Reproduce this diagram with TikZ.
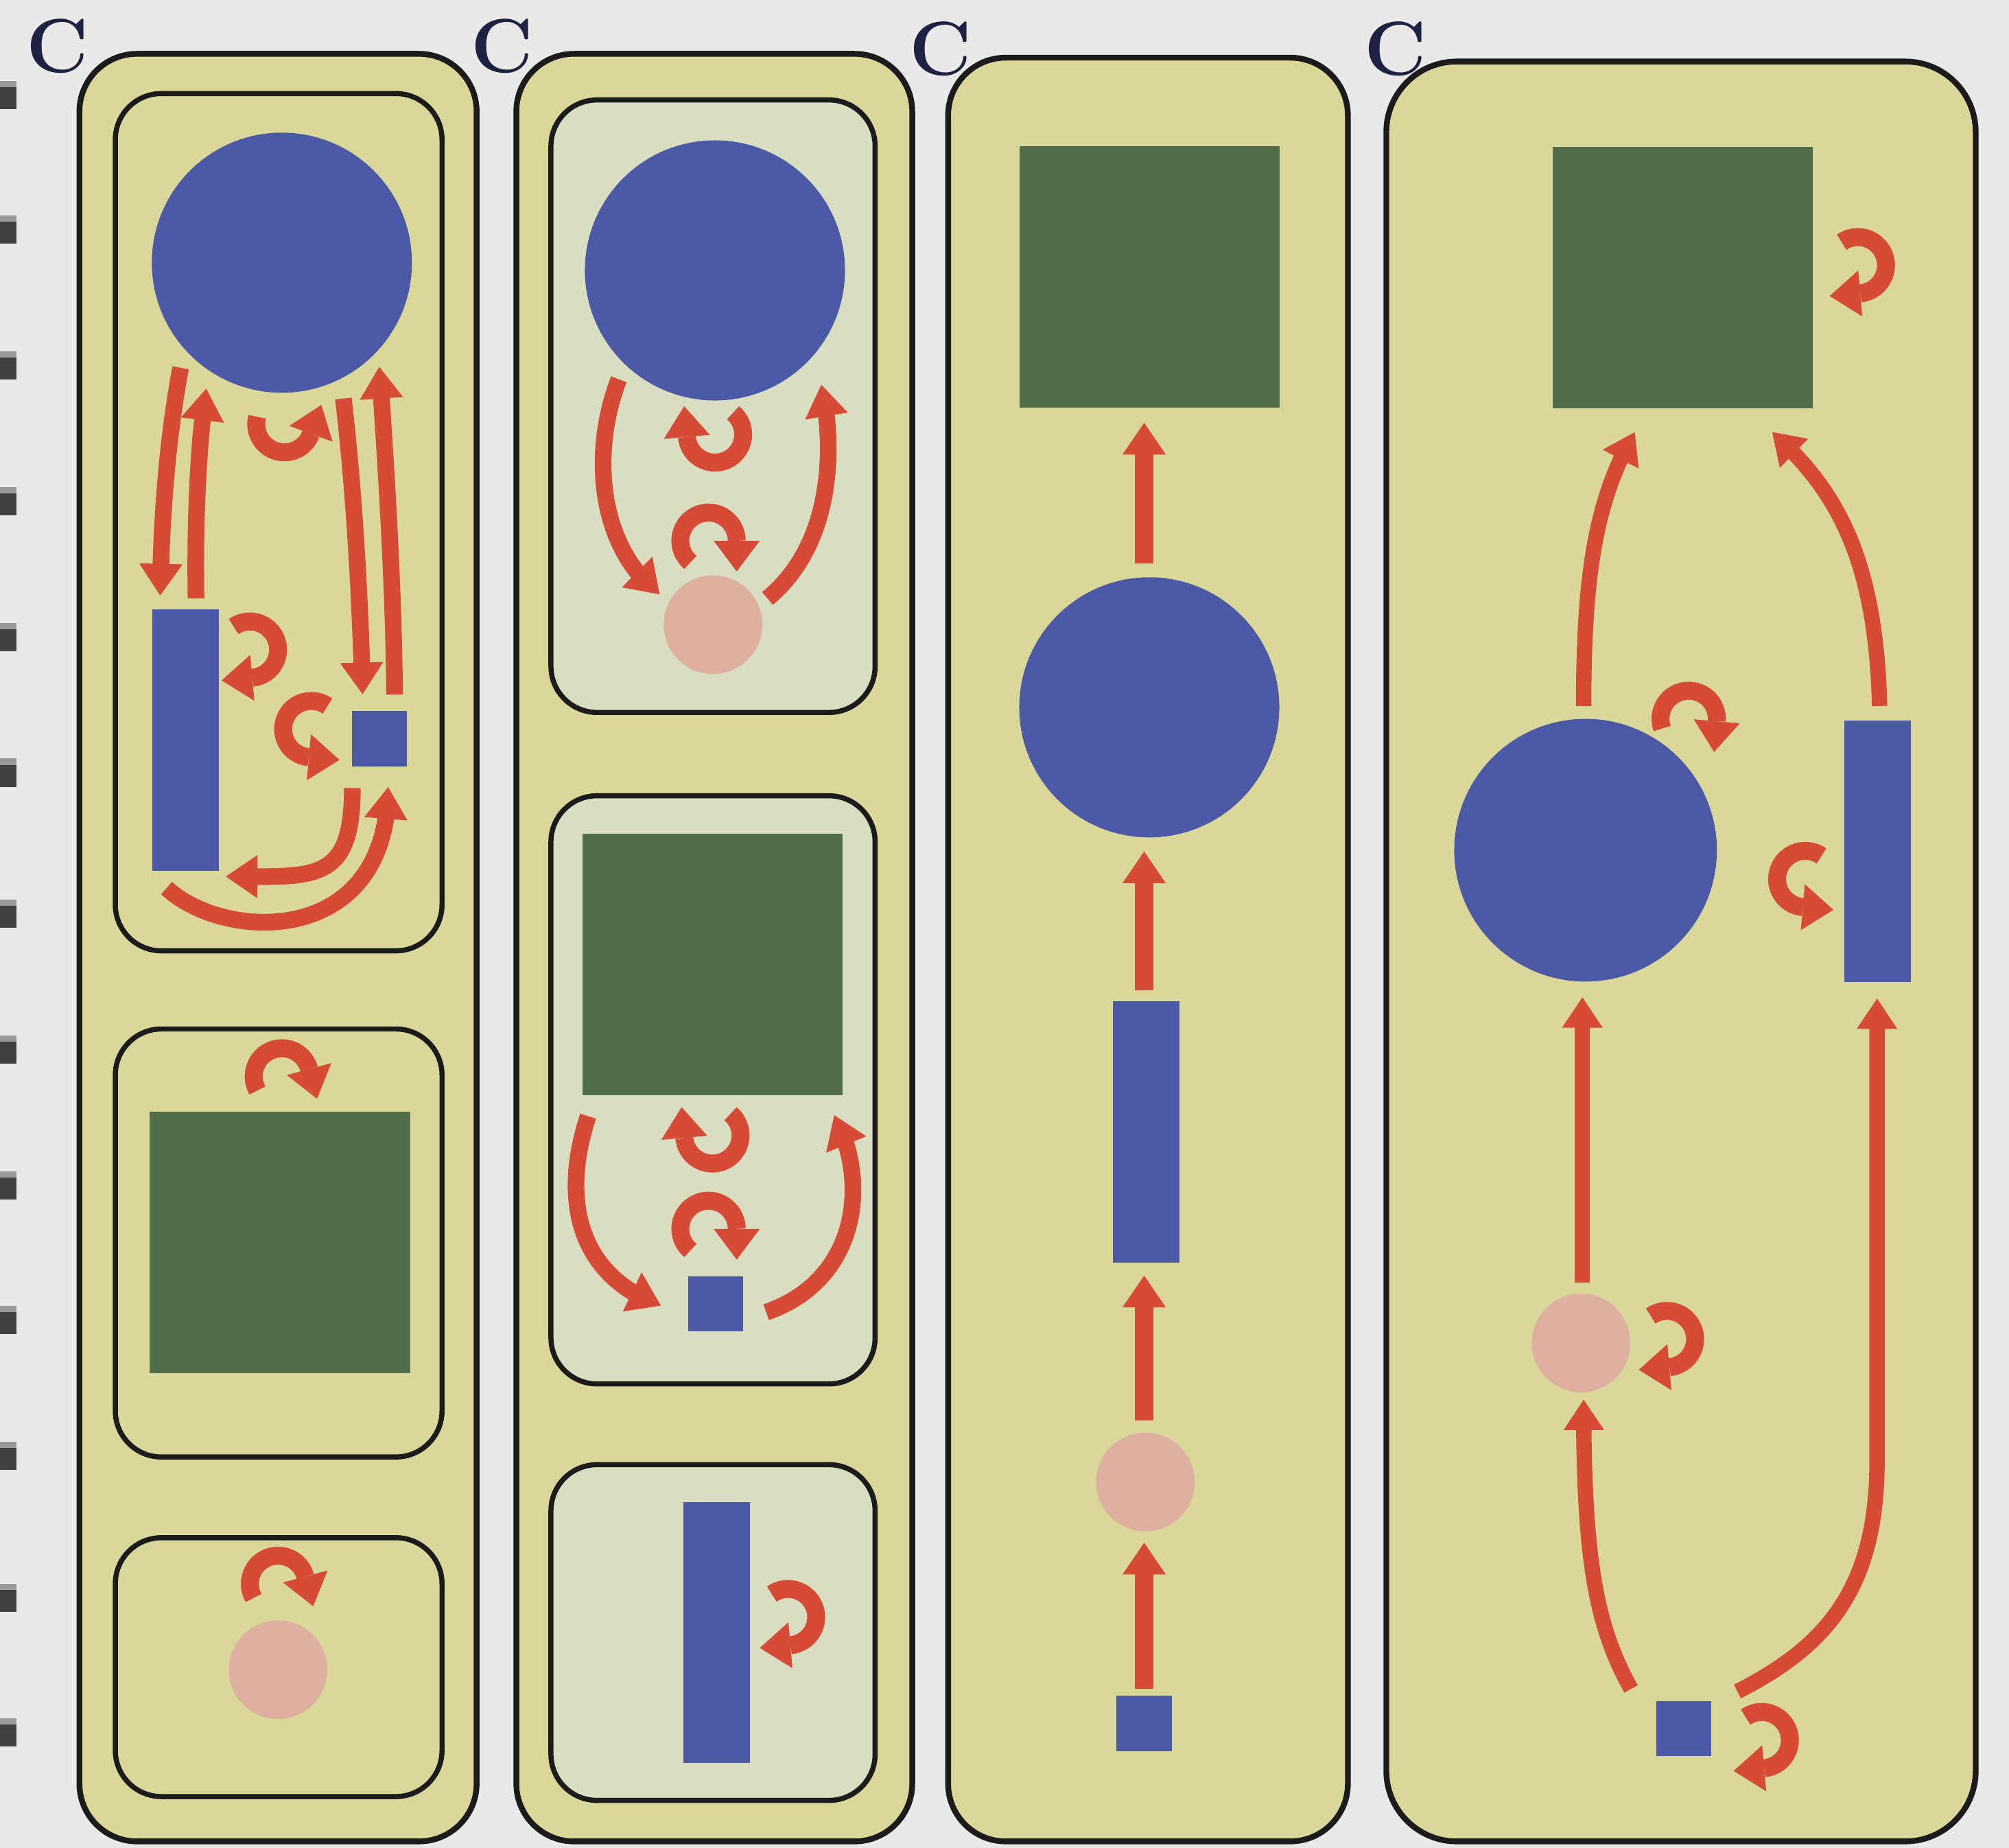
\documentclass[tikz,border=0pt]{standalone}
\usetikzlibrary{arrows.meta,bending}
\definecolor{bgc}{RGB}{233,233,231}
\definecolor{yel}{RGB}{218,216,153}
\definecolor{pale}{RGB}{218,222,192}
\definecolor{bluec}{RGB}{76,90,166}
\definecolor{greenc}{RGB}{80,110,74}
\definecolor{pinkc}{RGB}{221,176,162}
\definecolor{redc}{RGB}{214,74,56}
\definecolor{edge}{RGB}{28,26,26}
\definecolor{navy}{RGB}{30,34,66}
\tikzset{
 outerbox/.style={draw=edge, line width=0.45mm, fill=yel, rounded corners=4.5mm, inner sep=0pt},
 innerbox/.style={draw=edge, line width=0.4mm, fill=yel, rounded corners=3.6mm, inner sep=0pt},
 innerpale/.style={innerbox, fill=pale},
 bigcirc/.style={circle, fill=bluec, minimum size=20.3mm, inner sep=0pt},
 pinkdot/.style={circle, fill=pinkc, minimum size=7.7mm, inner sep=0pt},
 greensq/.style={rectangle, fill=greenc, minimum width=20.3mm, minimum height=20.4mm, inner sep=0pt},
 bluebar/.style={rectangle, fill=bluec, minimum width=5.2mm, minimum height=20.4mm, inner sep=0pt},
 smallsq/.style={rectangle, fill=bluec, minimum size=4.3mm, inner sep=0pt},
 arr/.style={draw=redc, line width=1.3mm, -{Triangle[width=3.2mm,length=2.5mm]}},
 thinarr/.style={draw=redc, line width=1.2mm, -{Triangle[width=3.0mm,length=2.4mm]}},
 curlline/.style={draw=redc, line width=1.4mm},
 ctext/.style={font=\fontsize{17}{17}\selectfont\bfseries, text=navy, inner sep=0pt},
 binding/.style={fill=black!75}
}
% centre x, centre y, radius (with unit), start angle, end angle (standard angles, 90 = up), direction (+1 ccw, -1 cw)
\newcommand{\mycurl}[6]{%
  \draw[curlline] (#1,#2) ++(#4:#3) arc[start angle=#4, end angle=#5, radius=#3];
  \fill[redc, shift={(#1,#2)}, rotate=#5] (#3-1.8mm,0pt) -- (#3+1.8mm,0pt) -- (#3,#6*2.4mm) -- cycle;
}
\begin{document}
\begin{tikzpicture}[x=0.1mm, y=-0.1mm]
\useasboundingbox (0,0) rectangle (1568,1442);
\fill[bgc] (0,0) rectangle (1568,1442);
\foreach \yy in {74,179,285,391,497,603,713,819,925,1030,1136,1247,1352} {
  \fill[binding] (0,\yy-11) rectangle (13,\yy+11);
  \fill[black!40] (0,\yy-11) rectangle (13,\yy-6);
}
% ---------- Panel 1
\node[ctext] (c1) at (45,36) {C};
\node[outerbox, minimum width=31mm, minimum height=139.5mm] (p1) at (217,739.5) {};
\node[innerbox, minimum width=25.5mm, minimum height=66.9mm] (p1a) at (217.5,407.5) {};
\node[innerbox, minimum width=25.5mm, minimum height=33.4mm] (p1b) at (217.5,970) {};
\node[innerbox, minimum width=25.5mm, minimum height=20.2mm] (p1c) at (217.5,1301) {};
\node[bigcirc] (p1circ) at (220,205) {};
\node[bluebar] (p1bar) at (145,577.5) {};
\node[smallsq] (p1sq) at (296,576.5) {};
\node[greensq] (p1green) at (218.5,969.5) {};
\node[pinkdot] (p1pink) at (217,1303) {};
\draw[arr] (141,287) .. controls (131,340) and (126,400) .. (125,465);
\draw[arr] (153,467) .. controls (152,400) and (155,345) .. (161,303);
\draw[arr] (268,311) .. controls (276,380) and (281,460) .. (283,542);
\draw[arr] (308,542) .. controls (307,450) and (301,360) .. (296,286);
\draw[arr] (275,615) .. controls (275,690) and (245,684) .. (176,684);
\draw[arr] (130,693) .. controls (175,735) and (303,740) .. (303,614);
\mycurl{222}{331}{2.2mm}{165}{340}{1}
\mycurl{195}{507}{2.2mm}{125}{-85}{-1}
\mycurl{243}{569}{2.2mm}{55}{265}{1}
\mycurl{220}{840}{2.2mm}{210}{15}{-1}
\mycurl{217}{1236}{2.2mm}{210}{15}{-1}
% ---------- Panel 2
\node[ctext] (c2) at (392,36) {C};
\node[outerbox, minimum width=30.9mm, minimum height=139.5mm] (p2) at (557.5,739.5) {};
\node[innerpale, minimum width=25.3mm, minimum height=47.8mm] (p2a) at (556.5,317) {};
\node[innerpale, minimum width=25.3mm, minimum height=45.9mm] (p2b) at (556.5,850.5) {};
\node[innerpale, minimum width=25.3mm, minimum height=26.2mm] (p2c) at (556.5,1274) {};
\node[bigcirc] (p2circ) at (558,211) {};
\node[pinkdot] (p2pink) at (556.5,487.5) {};
\node[greensq] (p2green) at (556,752.5) {};
\node[smallsq] (p2sq) at (558.5,1017.5) {};
\node[bluebar] (p2bar) at (559.5,1274) {};
\draw[arr] (483,296) .. controls (462,350) and (465,425) .. (515,464);
\draw[arr] (599,467) .. controls (650,425) and (652,350) .. (641,300);
\draw[arr] (459,871) .. controls (438,935) and (450,995) .. (516,1019);
\draw[arr] (598,1024) .. controls (668,1000) and (680,925) .. (651,870);
\mycurl{558}{339}{2.2mm}{50}{-175}{-1}
\mycurl{553}{422}{2.2mm}{230}{0}{-1}
\mycurl{556}{886}{2.2mm}{50}{-175}{-1}
\mycurl{553}{959}{2.2mm}{230}{0}{-1}
\mycurl{615}{1262}{2.2mm}{125}{-85}{-1}
% ---------- Panel 3
\node[ctext] (c3) at (734,38) {C};
\node[outerbox, minimum width=31.2mm, minimum height=139.2mm] (p3) at (896,741) {};
\node[greensq] (p3green) at (897.5,216) {};
\node[bigcirc] (p3circ) at (897,552) {};
\node[bluebar] (p3bar) at (894.5,883.5) {};
\node[pinkdot] (p3pink) at (894,1156.5) {};
\node[smallsq] (p3sq) at (893,1345) {};
\draw[arr, line width=1.4mm, shorten <=0.5mm, shorten >=0.8mm] (p3sq.north) -- (p3sq.north |- p3pink.south);
\draw[arr, line width=1.4mm, shorten <=0.9mm, shorten >=0.9mm] (p3sq.north |- p3pink.north) -- (p3sq.north |- p3bar.south);
\draw[arr, line width=1.4mm, shorten <=0.8mm, shorten >=1mm] (p3sq.north |- p3bar.north) -- (p3sq.north |- p3circ.south);
\draw[arr, line width=1.4mm, shorten <=1mm, shorten >=1.1mm] (p3sq.north |- p3circ.north) -- (p3sq.north |- p3green.south);
% ---------- Panel 4
\node[outerbox, minimum width=46mm, minimum height=138.9mm, rounded corners=5.5mm] (p4) at (1312,742.5) {};
\node[ctext] (c4) at (1089,38) {C};
\node[greensq] (p4green) at (1313.5,216.5) {};
\node[bigcirc, minimum size=20.5mm] (p4circ) at (1237.5,663.5) {};
\node[bluebar] (p4bar) at (1465.5,664.5) {};
\node[pinkdot] (p4pink) at (1234,1048) {};
\node[smallsq] (p4sq) at (1314,1349) {};
\draw[thinarr] (1236,551) .. controls (1236,450) and (1245,390) .. (1276,337);
\draw[thinarr] (1467,551) .. controls (1464,430) and (1430,380) .. (1383,337);
\draw[thinarr] (1235,1001) -- (1235,778);
\draw[thinarr] (1273,1318) .. controls (1245,1268) and (1236,1215) .. (1236,1092);
\draw[thinarr] (1356,1320) .. controls (1425,1285) and (1465,1240) .. (1465,1140) -- (1465,779);
\mycurl{1450}{207}{2.2mm}{125}{-85}{-1}
\mycurl{1318}{561}{2.2mm}{200}{-5}{-1}
\mycurl{1409}{686}{2.2mm}{55}{265}{1}
\mycurl{1301}{1045}{2.2mm}{125}{-85}{-1}
\mycurl{1375}{1358}{2.2mm}{125}{-85}{-1}
\end{tikzpicture}
\end{document}
